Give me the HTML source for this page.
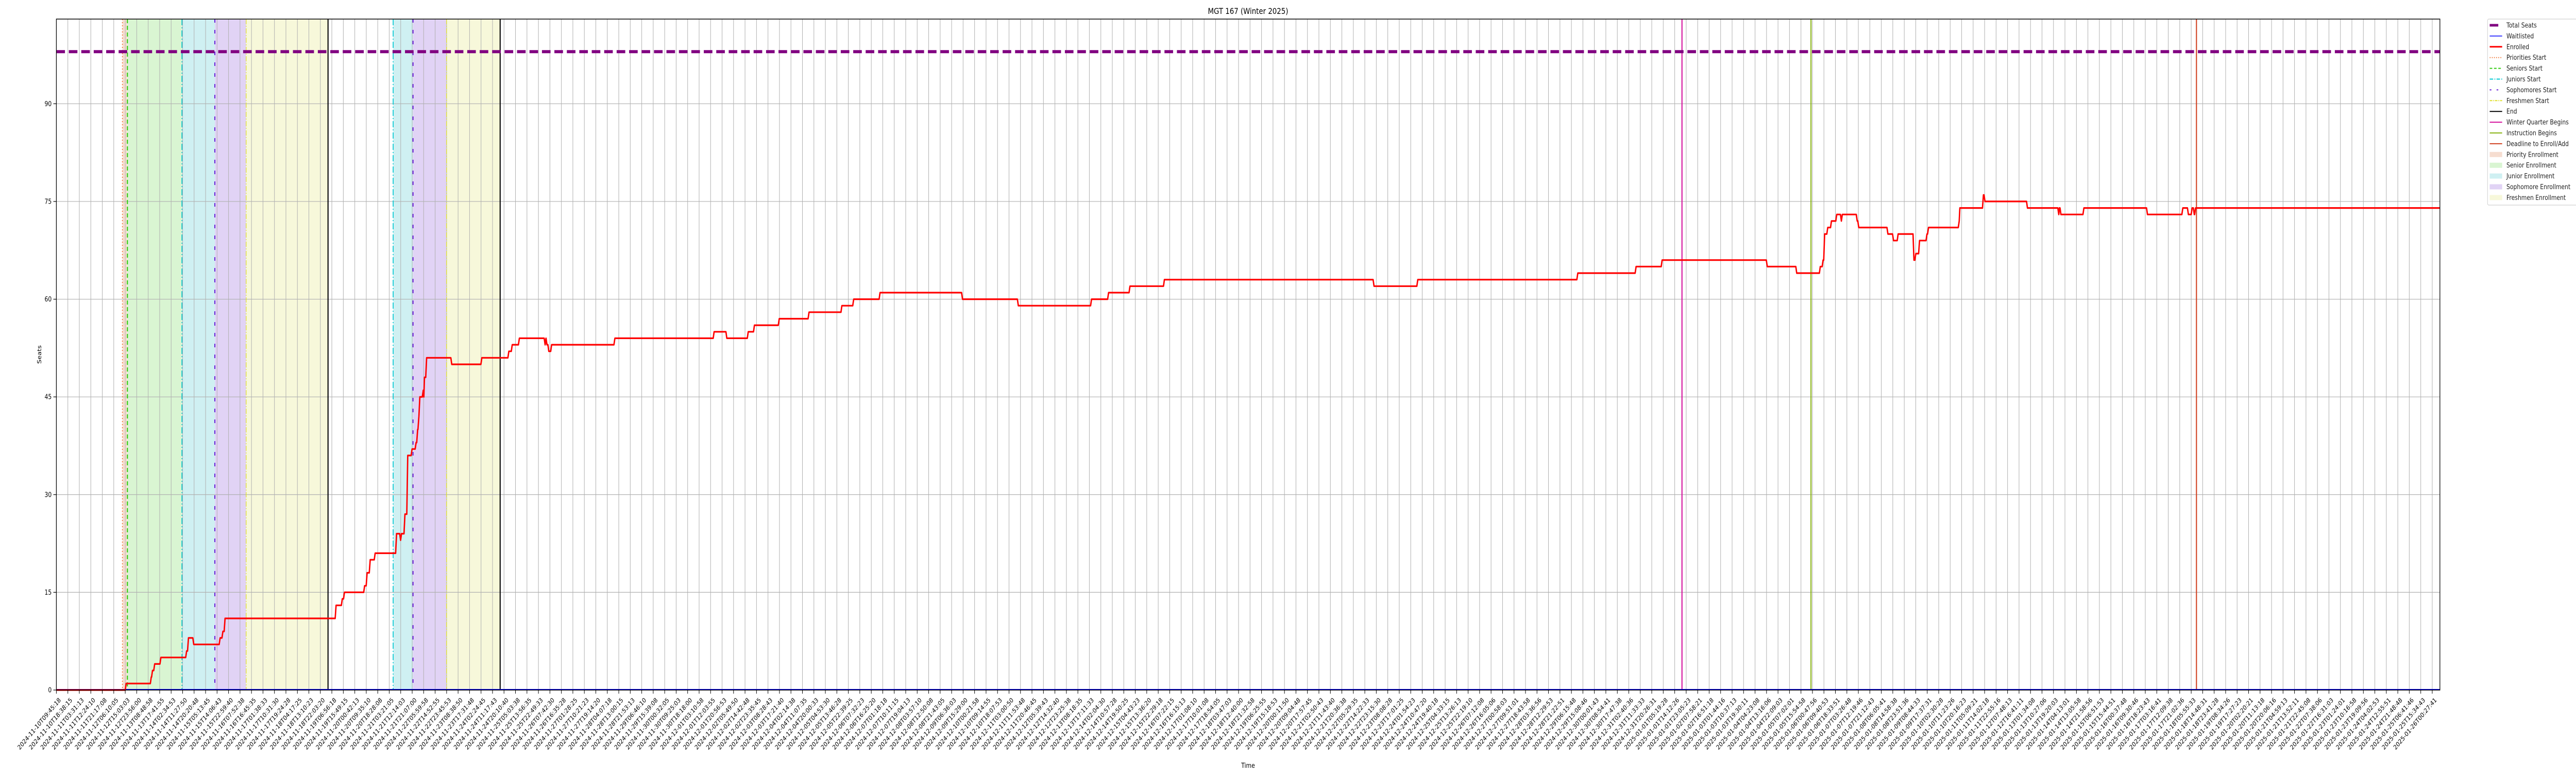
<!DOCTYPE html>
<html><head><meta charset="utf-8">
<style>
html,body{margin:0;padding:0;background:#fff;overflow:hidden;width:100vw;height:100vh;}
svg{display:block;width:100vw;height:100vh;overflow:hidden;font-family:"DejaVu Sans","Liberation Sans",sans-serif;}
</style></head>
<body>
<svg id="chart" viewBox="0 0 6000 1500" preserveAspectRatio="none" xmlns="http://www.w3.org/2000/svg">
<rect x="0" y="0" width="6000" height="1500" fill="#fff"/>
<g id="bands"></g>
<g id="grid"></g>
<g id="events"></g>
<g id="series"></g>
<g id="axes"></g>
<text x="2907" y="27" font-size="16" text-anchor="middle" fill="#000">MGT 167 (Winter 2025)</text>
<text x="2907" y="1490" font-size="13" text-anchor="middle" fill="#000">Time</text>
<text x="0" y="0" font-size="13" text-anchor="middle" fill="#000" transform="translate(96,688) rotate(-90)">Seats</text>
<g id="legend"></g>
</svg>
<script>
// ---- data (x in days since 2024-11-10T09:45:18) ----
const totalSeats = 98;
const enrollDays = [0,2.25,3.06,3.10,3.17,3.37,4.20,4.26,4.43,5.28,5.37,5.44,9.02,9.22,9.29,9.94,10.02,10.12,10.28,10.97,11.10,11.13,11.24,11.33,11.47,11.60,11.65,11.69,11.72,11.83,11.85,11.87,11.94,12.75,13.72,14.59,14.70,14.93,15.76,15.79,15.82,15.88,15.97,18.01,21.21,21.62,22.31,22.51,23.31,24.27,25.33,25.71,26.56,29.22,31.02,33.38,33.93,34.62,35.73,42.49,43.90,49.06,50.94,51.78,55.17,56.12,56.88,56.97,57.02,57.12,57.24,57.41,57.56,57.59,58.07,58.12,59.06,59.24,59.39,59.90,59.96,60.08,60.32,60.37,61.36,61.38,62.14,62.19,63.56,64.57,64.59,64.64,65.38,67.43,68.57,68.75,68.87,68.94,68.98];
const enrollValues = [0,1,2,3,4,5,6,8,7,8,9,11,13,14,15,16,18,20,21,24,23,24,27,36,37,38,40,42,45,46,45,48,51,50,51,52,53,54,53,54,53,52,53,54,55,54,55,56,57,58,59,60,61,60,59,60,61,62,63,62,63,64,65,66,65,64,65,66,70,71,72,73,72,73,72,71,70,69,70,66,67,69,70,71,72,74,76,75,74,73,74,73,74,73,74,73,74,73,74];
const endDay = 76.86;
const waitlistValue = 0;
const bandNames = ["Priority Enrollment","Senior Enrollment","Junior Enrollment","Sophomore Enrollment","Freshmen Enrollment","Junior Enrollment","Sophomore Enrollment","Freshmen Enrollment"];
const bandStarts = [2.13,2.29,4.05,5.11,6.12,10.86,11.50,12.58];
const bandEnds = [2.29,4.05,5.11,6.12,8.76,11.50,12.58,14.31];
const eventNames = ["Priorities Start","Seniors Start","Juniors Start","Sophomores Start","Freshmen Start","End","Juniors Start","Sophomores Start","Freshmen Start","End","Winter Quarter Begins","Instruction Begins","Deadline to Enroll/Add"];
const eventDays = [2.13,2.29,4.05,5.11,6.12,8.76,10.86,11.50,12.58,14.31,52.42,56.58,69.01];
const yTicks = [0,15,30,45,60,75,90];
const tickCount = 208;
const tickStepDays = 0.37011;
const startMs = Date.UTC(2024,10,10,9,45,18);

// ---- scales ----
const PL=131.3, PR=5683, PT=37, PB=1339;
const X0=0, X1=endDay, Y0=0, Y1=103;
function sx(d){return PL+(d-X0)/(X1-X0)*(PR-PL);}
function sy(v){return PB-(v-Y0)/(Y1-Y0)*(PB-PT);}
const NS="http://www.w3.org/2000/svg";
function mk(tag,attrs,parent){const e=document.createElementNS(NS,tag);for(const k in attrs)e.setAttribute(k,attrs[k]);parent.appendChild(e);return e;}

const bandColor={"Priority Enrollment":"#f6ddd0","Senior Enrollment":"#d9f5d2","Junior Enrollment":"#cff0f2","Sophomore Enrollment":"#e1d3f5","Freshmen Enrollment":"#f7f8da"};
const bands=document.getElementById('bands');
bandStarts.forEach((s,i)=>{
  const r=mk('rect',{x:sx(s),y:PT,width:sx(bandEnds[i])-sx(s),height:PB-PT,fill:bandColor[bandNames[i]]},bands);
  
  
});

// grid
const grid=document.getElementById('grid');
for(let k=0;k<tickCount;k++){
  const x=sx(k*tickStepDays);
  const l=mk('line',{x1:x,x2:x,y1:PT,y2:PB,stroke:'#b0b0b0','stroke-width':1.2},grid);
  
  
}
yTicks.forEach(v=>{
  const l=mk('line',{x1:PL,x2:PR,y1:sy(v),y2:sy(v),stroke:'#b0b0b0','stroke-width':1.2},grid);
  
  
});

// event lines
const evStyle={
 "Priorities Start":{c:'#f07a3a',w:2,d:'2,4'},
 "Seniors Start":{c:'#33cc11',w:2.5,d:'8,5'},
 "Juniors Start":{c:'#00c8d2',w:2,d:'12,4,2,4'},
 "Sophomores Start":{c:'#6a22d8',w:2.5,d:'7,14'},
 "Freshmen Start":{c:'#e0e030',w:1.5,d:'10,3,2,3'},
 "End":{c:'#000',w:2.5,d:''},
 "Winter Quarter Begins":{c:'#d4109c',w:2.5,d:''},
 "Instruction Begins":{c:'#88b414',w:2.5,d:''},
 "Deadline to Enroll/Add":{c:'#d04020',w:2.5,d:''}
};
const events=document.getElementById('events');
eventDays.forEach((d,i)=>{
  const st=evStyle[eventNames[i]];
  const a={x1:sx(d),x2:sx(d),y1:PT,y2:PB,stroke:st.c,'stroke-width':st.w};
  if(st.d)a['stroke-dasharray']=st.d;
  const l=mk('line',a,events);
  
  
});

// series
const series=document.getElementById('series');
const ts=mk('line',{x1:PL,x2:PR,y1:sy(totalSeats),y2:sy(totalSeats),stroke:'#800080','stroke-width':6,'stroke-dasharray':'20,9'},series);


const wl=mk('line',{x1:PL,x2:PR,y1:sy(waitlistValue)-1,y2:sy(waitlistValue)-1,stroke:'#0000ff','stroke-width':2},series);


let pts=[];
const dt=0.03;
enrollDays.forEach((d,i)=>{
  if(i>0){pts.push([sx(Math.max(d-dt,enrollDays[i-1])),sy(enrollValues[i-1])]);}
  pts.push([sx(d),sy(enrollValues[i])]);
});
pts.push([sx(endDay),sy(enrollValues[enrollValues.length-1])]);
const en=mk('polyline',{points:pts.map(p=>p[0].toFixed(1)+','+p[1].toFixed(1)).join(' '),fill:'none',stroke:'#ff0000','stroke-width':3.2,'stroke-linejoin':'round'},series);



// axes
const axes=document.getElementById('axes');
const fr=mk('rect',{x:PL,y:PT,width:PR-PL,height:PB-PT,fill:'none',stroke:'#000','stroke-width':1.5},axes);


yTicks.forEach(v=>{
  const t=mk('line',{x1:PL-7,x2:PL,y1:sy(v),y2:sy(v),stroke:'#000','stroke-width':1.2},axes);
  
  
  const tx=mk('text',{x:PL-11,y:sy(v)+4.5,'font-size':13,'text-anchor':'end',fill:'#000'},axes);
  tx.textContent=String(v);
  
  
});
function fmt(ms){const d=new Date(ms);const p=n=>String(n).padStart(2,'0');return d.getUTCFullYear()+'-'+p(d.getUTCMonth()+1)+'-'+p(d.getUTCDate())+'T'+p(d.getUTCHours())+':'+p(d.getUTCMinutes())+':'+p(d.getUTCSeconds());}
for(let k=0;k<tickCount;k++){
  const x=sx(k*tickStepDays);
  const t=mk('line',{x1:x,x2:x,y1:PB,y2:PB+7,stroke:'#000','stroke-width':1.2},axes);
  
  
  const tx=mk('text',{x:0,y:0,'font-size':12.5,'text-anchor':'end',fill:'#000',transform:'translate('+(x+5).toFixed(1)+','+(PB+14)+') rotate(-45)'},axes);
  tx.setAttribute('dy','0.7em');
  tx.textContent=fmt(startMs+k*tickStepDays*86400000);
  
  
}

// legend
const lg=document.getElementById('legend');
const box=mk('rect',{x:5794,y:37,width:210,height:361,rx:3,fill:'#fff',stroke:'#d0d0d0','stroke-width':1.2},lg);


const legItems=[
 ["Total Seats",'line','#800080',5,''],
 ["Waitlisted",'line','#0000ff',1.5,''],
 ["Enrolled",'line','#ff0000',3,''],
 ["Priorities Start",'line','#f07a3a',2,'2,3'],
 ["Seniors Start",'line','#33cc11',2,'6,4'],
 ["Juniors Start",'line','#00c8d2',2,'8,3,2,3'],
 ["Sophomores Start",'line','#6a22d8',2,'4,12'],
 ["Freshmen Start",'line','#e0e030',2,'6,2,2,2'],
 ["End",'line','#000',2,''],
 ["Winter Quarter Begins",'line','#d4109c',2,''],
 ["Instruction Begins",'line','#88b414',2,''],
 ["Deadline to Enroll/Add",'line','#d04020',2,''],
 ["Priority Enrollment",'patch','#f6ddd0',0,''],
 ["Senior Enrollment",'patch','#d9f5d2',0,''],
 ["Junior Enrollment",'patch','#cff0f2',0,''],
 ["Sophomore Enrollment",'patch','#e1d3f5',0,''],
 ["Freshmen Enrollment",'patch','#f7f8da',0,'']
];
legItems.forEach((it,i)=>{
  const y=49+i*20.9;
  const g=mk('g',{},lg);
  
  
  if(it[1]==='line'){
    const a={x1:5799,x2:5828,y1:y,y2:y,stroke:it[2],'stroke-width':it[3]};
    if(it[4])a['stroke-dasharray']=it[4];
    if(i===0){a.x2=5819;}
    mk('line',a,g);
  }else{
    mk('rect',{x:5799,y:y-5,width:29,height:10,fill:it[2]},g);
  }
  const t=mk('text',{x:5838,y:y+4.5,'font-size':13,fill:'#222'},g);
  t.textContent=it[0];
});
</script>
</body></html>
